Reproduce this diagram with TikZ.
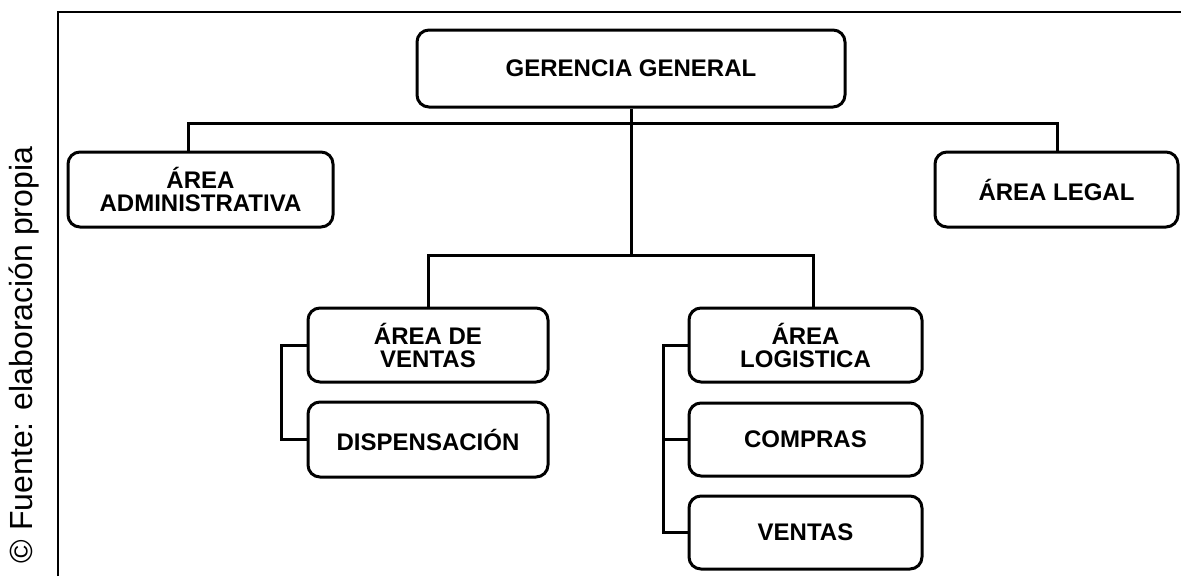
\documentclass[tikz,border=0pt]{standalone}
\usepackage{fontspec}
\setmainfont{Liberation Sans}
\begin{document}
\begin{tikzpicture}[x=1pt,y=-1pt,
  orgbox/.style={draw, line width=3pt, rounded corners=12pt, inner sep=0pt,
    align=center, font=\fontsize{24}{23}\selectfont\bfseries},
  conn/.style={line width=3pt},
  frame/.style={line width=2pt}]
\useasboundingbox (0,0) rectangle (1181,576);
% frame
\coordinate (fr1) at (58,576);
\coordinate (fr2) at (58,12);
\coordinate (fr3) at (1181,12);
\draw[frame] (fr1) -- (fr2) -- (fr3);
% source
\node[rotate=90, font=\fontsize{32}{32}\selectfont, inner sep=0pt] (src) at (24,355) {© Fuente: elaboración propia};
% boxes
\node[orgbox, minimum width=428pt, minimum height=77pt] (gg) at (631,68.5) {GERENCIA GENERAL};
\node[orgbox, minimum width=265pt, minimum height=75pt] (adm) at (200.5,189.5) {ÁREA\\ADMINISTRATIVA};
\node[orgbox, minimum width=243pt, minimum height=75pt] (leg) at (1056.5,189.5) {ÁREA LEGAL};
\node[orgbox, minimum width=240pt, minimum height=74pt] (av) at (428,345) {ÁREA DE\\VENTAS};
\node[orgbox, minimum width=240pt, minimum height=75pt] (disp) at (428,439.5) {DISPENSACIÓN};
\node[orgbox, minimum width=233pt, minimum height=74pt] (al) at (805.5,345) {ÁREA\\LOGISTICA};
\node[orgbox, minimum width=233pt, minimum height=73pt] (comp) at (805.5,439.5) {COMPRAS};
\node[orgbox, minimum width=233pt, minimum height=73pt] (ven) at (805.5,532.5) {VENTAS};
% connectors
\draw[conn] (gg.south) -- (gg.south |- 0,255);
\draw[conn] (188,0 |- adm.north) |- (1057,123) -- (1057,0 |- leg.north);
\draw[conn] (av.north) -- (av.north |- 0,255) -- (813,255) -- (813,0 |- al.north);
\draw[conn] (av.west) -- (281,0 |- av.west) |- (disp.west);
\draw[conn] (al.west) -- (663,0 |- al.west) |- (ven.west);
\draw[conn] (comp.west) -- (663,0 |- comp.west);
\end{tikzpicture}
\end{document}
